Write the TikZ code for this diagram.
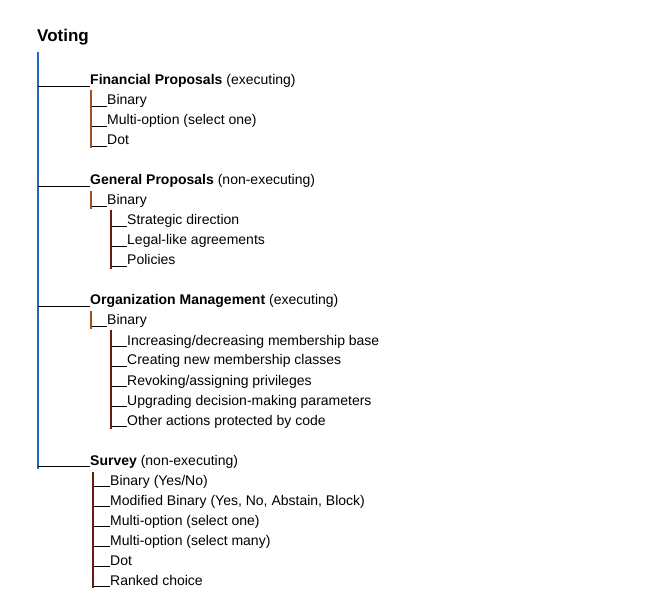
\documentclass[tikz,border=0pt]{standalone}
\usepackage{fontspec}
\setmainfont{Liberation Sans}
\usetikzlibrary{calc}
\definecolor{barblue}{HTML}{1F66C1}
\definecolor{barbrown}{HTML}{A0521E}
\definecolor{bardark}{HTML}{6B1A10}
\begin{document}
\begin{tikzpicture}[x=1pt,y=-1pt,
    every node/.style={anchor=base west,inner sep=0pt,font=\fontsize{14}{16}\selectfont},
    uline/.style={black,line width=1pt},
    mainbar/.style={draw=barblue,line width=2pt},
    subbar/.style={draw=barbrown,line width=1.4pt},
    leafbar/.style={draw=bardark,line width=1.4pt}]
  \useasboundingbox (0,0) rectangle (670,604);
  \draw
    (37,42) node[font=\fontsize{17}{19}\selectfont\bfseries] (voting){Voting}
    (90,85) node (fin){\textbf{Financial Proposals} (executing)}
    (107,105) node (finbin){Binary}
    (107,125) node (finmulti){Multi-option (select one)}
    (107,145) node (findot){Dot}
    (90,185) node (gen){\textbf{General Proposals} (non-executing)}
    (107,205) node (genbin){Binary}
    (127,225) node (genstrat){Strategic direction}
    (127,245) node (genlegal){Legal-like agreements}
    (127,265) node (genpol){Policies}
    (90,305) node (org){\textbf{Organization Management} (executing)}
    (107,325) node (orgbin){Binary}
    (127,345) node (orginc){Increasing/decreasing membership base}
    (127,365) node (orgnew){Creating new membership classes}
    (127,385) node (orgrev){Revoking/assigning privileges}
    (127,405) node (orgup){Upgrading decision-making parameters}
    (127,425) node (orgother){Other actions protected by code}
    (90,465) node (survey){\textbf{Survey} (non-executing)}
    (110,485) node (svbin){Binary (Yes/No)}
    (110,505) node (svmod){Modified Binary (Yes, No, Abstain, Block)}
    (110,525) node (svone){Multi-option (select one)}
    (110,545) node (svmany){Multi-option (select many)}
    (110,565) node (svdot){Dot}
    (110,585) node (svrank){Ranked choice};
  \coordinate (roottop) at ($(voting.base west)+(1,10)$);
  \coordinate (rootend) at ($(survey.base west)+(-52,4)$);
  \draw[mainbar] (roottop) -- (rootend);
  \begin{scope}[uline]
    \draw ($(fin.base west)+(0,1.5)$) -- ++(-52,0);
    \draw ($(gen.base west)+(0,1.5)$) -- ++(-52,0);
    \draw ($(org.base west)+(0,1.5)$) -- ++(-52,0);
    \draw ($(survey.base west)+(0,1.5)$) -- ++(-52,0);
    \draw ($(finbin.base west)+(0,1.5)$) -- ++(-15,0);
    \draw ($(finmulti.base west)+(0,1.5)$) -- ++(-15,0);
    \draw ($(findot.base west)+(0,1.5)$) -- ++(-15,0);
    \draw ($(genbin.base west)+(0,1.5)$) -- ++(-15,0);
    \draw ($(genstrat.base west)+(0,1.5)$) -- ++(-15,0);
    \draw ($(genlegal.base west)+(0,1.5)$) -- ++(-15,0);
    \draw ($(genpol.base west)+(0,1.5)$) -- ++(-15,0);
    \draw ($(orgbin.base west)+(0,1.5)$) -- ++(-15,0);
    \draw ($(orginc.base west)+(0,1.5)$) -- ++(-15,0);
    \draw ($(orgnew.base west)+(0,1.5)$) -- ++(-15,0);
    \draw ($(orgrev.base west)+(0,1.5)$) -- ++(-15,0);
    \draw ($(orgup.base west)+(0,1.5)$) -- ++(-15,0);
    \draw ($(orgother.base west)+(0,1.5)$) -- ++(-15,0);
    \draw ($(svbin.base west)+(0,1.5)$) -- ++(-16,0);
    \draw ($(svmod.base west)+(0,1.5)$) -- ++(-16,0);
    \draw ($(svone.base west)+(0,1.5)$) -- ++(-16,0);
    \draw ($(svmany.base west)+(0,1.5)$) -- ++(-16,0);
    \draw ($(svdot.base west)+(0,1.5)$) -- ++(-16,0);
    \draw ($(svrank.base west)+(0,1.5)$) -- ++(-16,0);
  \end{scope}
  \draw[subbar] ($(fin.base west)+(1,5)$) -- ($(findot.base west)+(-16,3)$);
  \draw[subbar] ($(gen.base west)+(1,6)$) -- ($(genbin.base west)+(-16,4)$);
  \draw[subbar] ($(org.base west)+(1,6)$) -- ($(orgbin.base west)+(-16,4)$);
  \draw[leafbar] ($(genbin.base west)+(4,5)$) -- ($(genpol.base west)+(-16,4)$);
  \draw[leafbar] ($(orgbin.base west)+(4,5)$) -- ($(orgother.base west)+(-16,4)$);
  \draw[leafbar] ($(survey.base west)+(3,7)$) -- ($(svrank.base west)+(-17,3)$);
\end{tikzpicture}
\end{document}
